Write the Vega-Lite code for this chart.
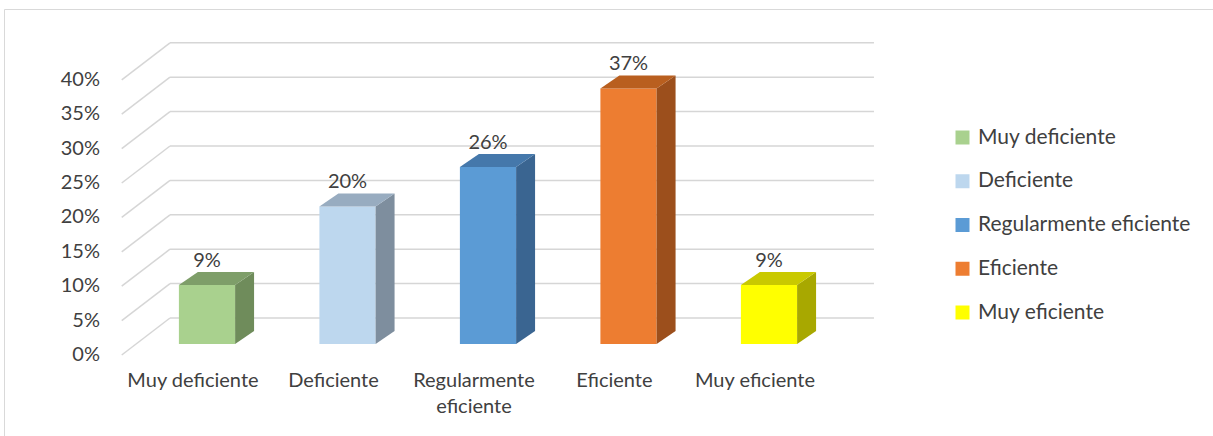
{
  "$schema": "https://vega.github.io/schema/vega-lite/v6.json",
  "width": 1215,
  "height": 430,
  "autosize": {"type": "none"},
  "padding": {"left": 4, "top": 9, "right": 0, "bottom": 0},
  "background": "white",
  "config": {
    "view": {"stroke": "#d9d9d9", "strokeWidth": 1},
    "font": "Lato"
  },
  "datasets": {
    "datos": [
      {"categoria": "Muy deficiente", "orden": 1, "valor": 0.0857},
      {"categoria": "Deficiente", "orden": 2, "valor": 0.2},
      {"categoria": "Regularmente eficiente", "orden": 3, "valor": 0.2571},
      {"categoria": "Eficiente", "orden": 4, "valor": 0.3714},
      {"categoria": "Muy eficiente", "orden": 5, "valor": 0.0857}
    ],
    "marcas": [
      {"t": 0}, {"t": 0.05}, {"t": 0.1}, {"t": 0.15}, {"t": 0.2},
      {"t": 0.25}, {"t": 0.3}, {"t": 0.35}, {"t": 0.4}
    ]
  },
  "encoding": {
    "x": {"field": "x", "type": "quantitative", "axis": null,
          "scale": {"domain": [-0.44484, 8.2028], "nice": false, "zero": false}},
    "y": {"field": "y", "type": "quantitative", "axis": null,
          "scale": {"domain": [-0.13808, 0.48692], "nice": false, "zero": false}}
  },
  "layer": [
    {
      "data": {"name": "marcas"},
      "transform": [
        {"calculate": "0.393", "as": "x"},
        {"calculate": "0.7367", "as": "x2"},
        {"calculate": "datum.t - 0.016", "as": "y"},
        {"calculate": "datum.t + 0.0378", "as": "y2"}
      ],
      "mark": {"type": "rule", "color": "#d6d6d6", "strokeWidth": 1.5},
      "encoding": {
        "x2": {"field": "x2"},
        "y2": {"field": "y2"}
      }
    },
    {
      "data": {"name": "marcas"},
      "transform": [
        {"calculate": "0.7367", "as": "x"},
        {"calculate": "5.747", "as": "x2"},
        {"calculate": "datum.t + 0.0378", "as": "y"}
      ],
      "mark": {"type": "rule", "color": "#d6d6d6", "strokeWidth": 1.5},
      "encoding": {
        "x2": {"field": "x2"}
      }
    },
    {
      "data": {"name": "marcas"},
      "transform": [
        {"calculate": "0.238", "as": "x"},
        {"calculate": "datum.t - 0.016", "as": "y"}
      ],
      "mark": {"type": "text", "align": "right", "baseline": "middle",
               "fontSize": 20, "color": "#404040"},
      "encoding": {
        "text": {"field": "t", "type": "quantitative", "format": ".0%"}
      }
    },
    {
      "data": {"name": "datos"},
      "transform": [
        {"calculate": "datum.orden - 0.2", "as": "x"},
        {"calculate": "datum.orden + 0.2", "as": "x2"},
        {"calculate": "0", "as": "y"},
        {"calculate": "datum.valor", "as": "y2"}
      ],
      "mark": {"type": "rect"},
      "encoding": {
        "x2": {"field": "x2"},
        "y2": {"field": "y2"},
        "color": {
          "field": "categoria", "type": "nominal", "title": null,
          "scale": {
            "domain": ["Muy deficiente", "Deficiente", "Regularmente eficiente", "Eficiente", "Muy eficiente"],
            "range": ["#a9d18e", "#bdd7ee", "#5b9bd5", "#ed7d31", "#ffff00"]
          },
          "legend": {
            "orient": "none", "legendX": 948, "legendY": 118,
            "padding": 0, "symbolType": "square", "symbolSize": 196,
            "symbolStrokeWidth": 0, "labelFontSize": 21, "labelColor": "#404040",
            "labelFont": "Lato", "labelOffset": 5, "rowPadding": 21.75, "labelLimit": 300
          }
        }
      }
    },
    {
      "data": {"name": "datos"},
      "transform": [
        {"calculate": "[0, 1]", "as": "p"},
        {"flatten": ["p"]},
        {"calculate": "datum.orden + 0.2 + datum.p * 0.135", "as": "x"},
        {"calculate": "datum.p * 0.0189", "as": "y"},
        {"calculate": "datum.valor + datum.p * 0.0189", "as": "y2"}
      ],
      "mark": {"type": "area", "orient": "vertical"},
      "encoding": {
        "y2": {"field": "y2"},
        "color": {
          "field": "categoria", "type": "nominal", "legend": null,
          "scale": {
            "domain": ["Muy deficiente", "Deficiente", "Regularmente eficiente", "Eficiente", "Muy eficiente"],
            "range": ["#6f8c5b", "#7e8e9e", "#3a6591", "#9c4f1c", "#a8a800"]
          }
        }
      }
    },
    {
      "data": {"name": "datos"},
      "transform": [
        {"calculate": "[0, 1]", "as": "p"},
        {"flatten": ["p"]},
        {"calculate": "datum.orden - 0.2 + datum.p * 0.135", "as": "x"},
        {"calculate": "datum.orden + 0.2 + datum.p * 0.135", "as": "x2"},
        {"calculate": "datum.valor + datum.p * 0.0189", "as": "y"}
      ],
      "mark": {"type": "area", "orient": "horizontal"},
      "encoding": {
        "x2": {"field": "x2"},
        "color": {
          "field": "categoria", "type": "nominal", "legend": null,
          "scale": {
            "domain": ["Muy deficiente", "Deficiente", "Regularmente eficiente", "Eficiente", "Muy eficiente"],
            "range": ["#7e9e69", "#98acc0", "#4578ab", "#b95f1f", "#c9c900"]
          }
        }
      }
    },
    {
      "data": {"name": "datos"},
      "transform": [
        {"calculate": "datum.orden", "as": "x"},
        {"calculate": "datum.valor + 0.0189", "as": "y"}
      ],
      "mark": {"type": "text", "align": "center", "baseline": "alphabetic",
               "dy": -5.5, "fontSize": 20, "color": "#404040"},
      "encoding": {
        "text": {"field": "valor", "type": "quantitative", "format": ".0%"}
      }
    },
    {
      "data": {"name": "datos"},
      "transform": [
        {"calculate": "datum.orden - 0.1", "as": "x"},
        {"calculate": "-0.0625", "as": "y"},
        {"calculate": "datum.categoria == 'Regularmente eficiente' ? split(datum.categoria, ' ') : datum.categoria", "as": "etiqueta"}
      ],
      "mark": {"type": "text", "align": "center", "baseline": "alphabetic",
               "fontSize": 20, "lineHeight": 26, "color": "#404040"},
      "encoding": {
        "text": {"field": "etiqueta", "type": "nominal"}
      }
    }
  ],
  "resolve": {"scale": {"color": "independent"}}
}
